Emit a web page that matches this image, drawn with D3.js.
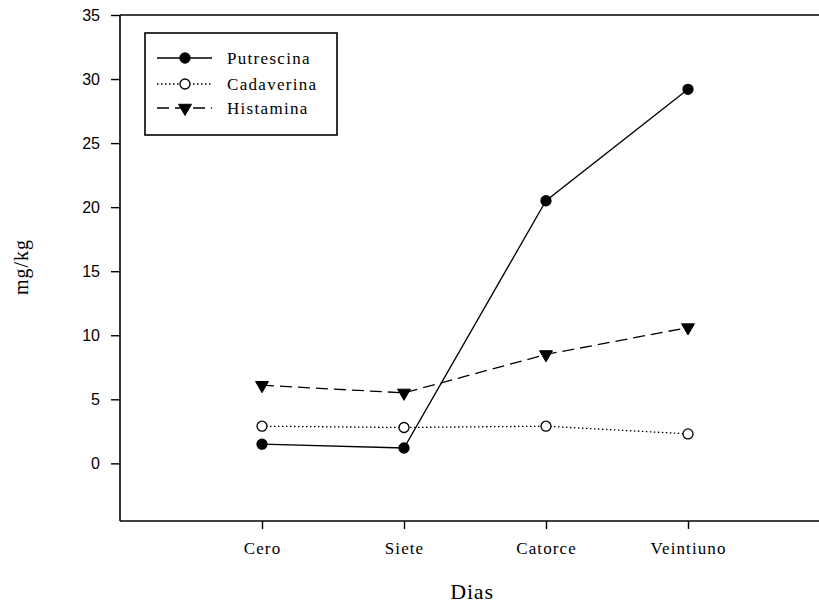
<!DOCTYPE html>
<html>
<head>
<meta charset="utf-8">
<script src="https://cdn.jsdelivr.net/npm/d3@7"></script>
<style>
  html, body { margin: 0; padding: 0; background: #fff; }
  svg { display: block; }
</style>
</head>
<body>
<svg id="chart" width="819" height="609"></svg>
<script>
// Biogenic amine content over storage days
const dias = ["Cero", "Siete", "Catorce", "Veintiuno"];
const putrescina = [1.5, 1.2, 20.5, 29.2];
const cadaverina = [2.9, 2.8, 2.9, 2.3];
const histamina = [6.1, 5.5, 8.5, 10.6];
const yTicks = [0, 5, 10, 15, 20, 25, 30, 35];

const svg = d3.select("#chart");
const plotLeft = 120, plotTop = 15, plotBottom = 521, plotRight = 819;
const serif = "Liberation Serif, Times New Roman, serif";

const x = d3.scaleLinear().domain([-1, 4]).range([plotLeft, 830]);
const y = d3.scaleLinear().domain([-4.5, 35]).range([plotBottom, plotTop]);

// Top frame line
svg.append("line").attr("x1", plotLeft).attr("x2", plotRight).attr("y1", plotTop).attr("y2", plotTop)
  .attr("stroke", "#000").attr("stroke-width", 1.6);

// Y axis
const yAxis = svg.append("g").attr("transform", `translate(${plotLeft},0)`)
  .call(d3.axisLeft(y).tickValues(yTicks).tickSize(9).tickSizeOuter(0).tickPadding(11));
yAxis.select(".domain").attr("stroke-width", 1.6).attr("d", `M0,${plotTop}V${plotBottom}`);
yAxis.selectAll(".tick line").attr("stroke-width", 1.4);
yAxis.selectAll(".tick text").attr("font-family", "Liberation Sans, Arial, sans-serif")
  .attr("font-size", 16).attr("fill", "#000");

// X axis
const xAxis = svg.append("g").attr("transform", `translate(0,${plotBottom})`)
  .call(d3.axisBottom(x).tickValues(d3.range(dias.length)).tickFormat(i => dias[i])
    .tickSize(8).tickSizeOuter(0).tickPadding(13));
xAxis.select(".domain").attr("stroke-width", 1.6).attr("d", `M${plotLeft},0H${plotRight}`);
xAxis.selectAll(".tick line").attr("stroke-width", 1.4);
xAxis.selectAll(".tick text").attr("font-family", serif)
  .attr("font-size", 17).attr("letter-spacing", 1.1).attr("fill", "#000");

// Axis titles
svg.append("text").attr("x", 472).attr("y", 599).attr("text-anchor", "middle")
  .attr("font-family", serif).attr("font-size", 22).attr("letter-spacing", 0.8)
  .text("Dias");
svg.append("text").attr("transform", "translate(28,267) rotate(-90)").attr("text-anchor", "middle")
  .attr("font-family", serif).attr("font-size", 20).attr("letter-spacing", 1)
  .text("mg/kg");

const series = [
  { name: "Putrescina", values: putrescina, dash: null, marker: "circle", fill: "#000" },
  { name: "Cadaverina", values: cadaverina, dash: "1.5,2.5", marker: "circle", fill: "#fff" },
  { name: "Histamina", values: histamina, dash: "12,6", marker: "triangle", fill: "#000" }
];

const line = d3.line().x((d, i) => x(i)).y(d => y(d));
const tri = d3.symbol().type(d3.symbolTriangle).size(72);

function drawMarker(g, s, cx, cy) {
  if (s.marker === "circle") {
    g.append("circle").attr("cx", cx).attr("cy", cy).attr("r", 5)
      .attr("fill", s.fill).attr("stroke", "#000").attr("stroke-width", 1.3);
  } else {
    g.append("path").attr("d", tri).attr("transform", `translate(${cx},${cy}) rotate(180)`)
      .attr("fill", s.fill).attr("stroke", "#000").attr("stroke-width", 1);
  }
}

series.forEach(s => {
  const g = svg.append("g");
  g.append("path").datum(s.values).attr("d", line).attr("fill", "none")
    .attr("stroke", "#000").attr("stroke-width", 1.3)
    .attr("stroke-dasharray", s.dash);
  s.values.forEach((v, i) => drawMarker(g, s, x(i), y(v)));
});

// Legend
const leg = svg.append("g");
leg.append("rect").attr("x", 145).attr("y", 33).attr("width", 192).attr("height", 102)
  .attr("fill", "#fff").attr("stroke", "#000").attr("stroke-width", 1.6);
const rowY = [58, 84, 108];
series.forEach((s, i) => {
  const yy = rowY[i];
  leg.append("line").attr("x1", 157).attr("x2", 212).attr("y1", yy).attr("y2", yy)
    .attr("stroke", "#000").attr("stroke-width", 1.4).attr("stroke-dasharray", s.dash);
  drawMarker(leg, s, 185, yy);
  leg.append("text").attr("x", 227).attr("y", yy + 5.5)
    .attr("font-family", serif).attr("font-size", 17).attr("letter-spacing", 1.3)
    .text(s.name);
});
</script>
</body>
</html>
